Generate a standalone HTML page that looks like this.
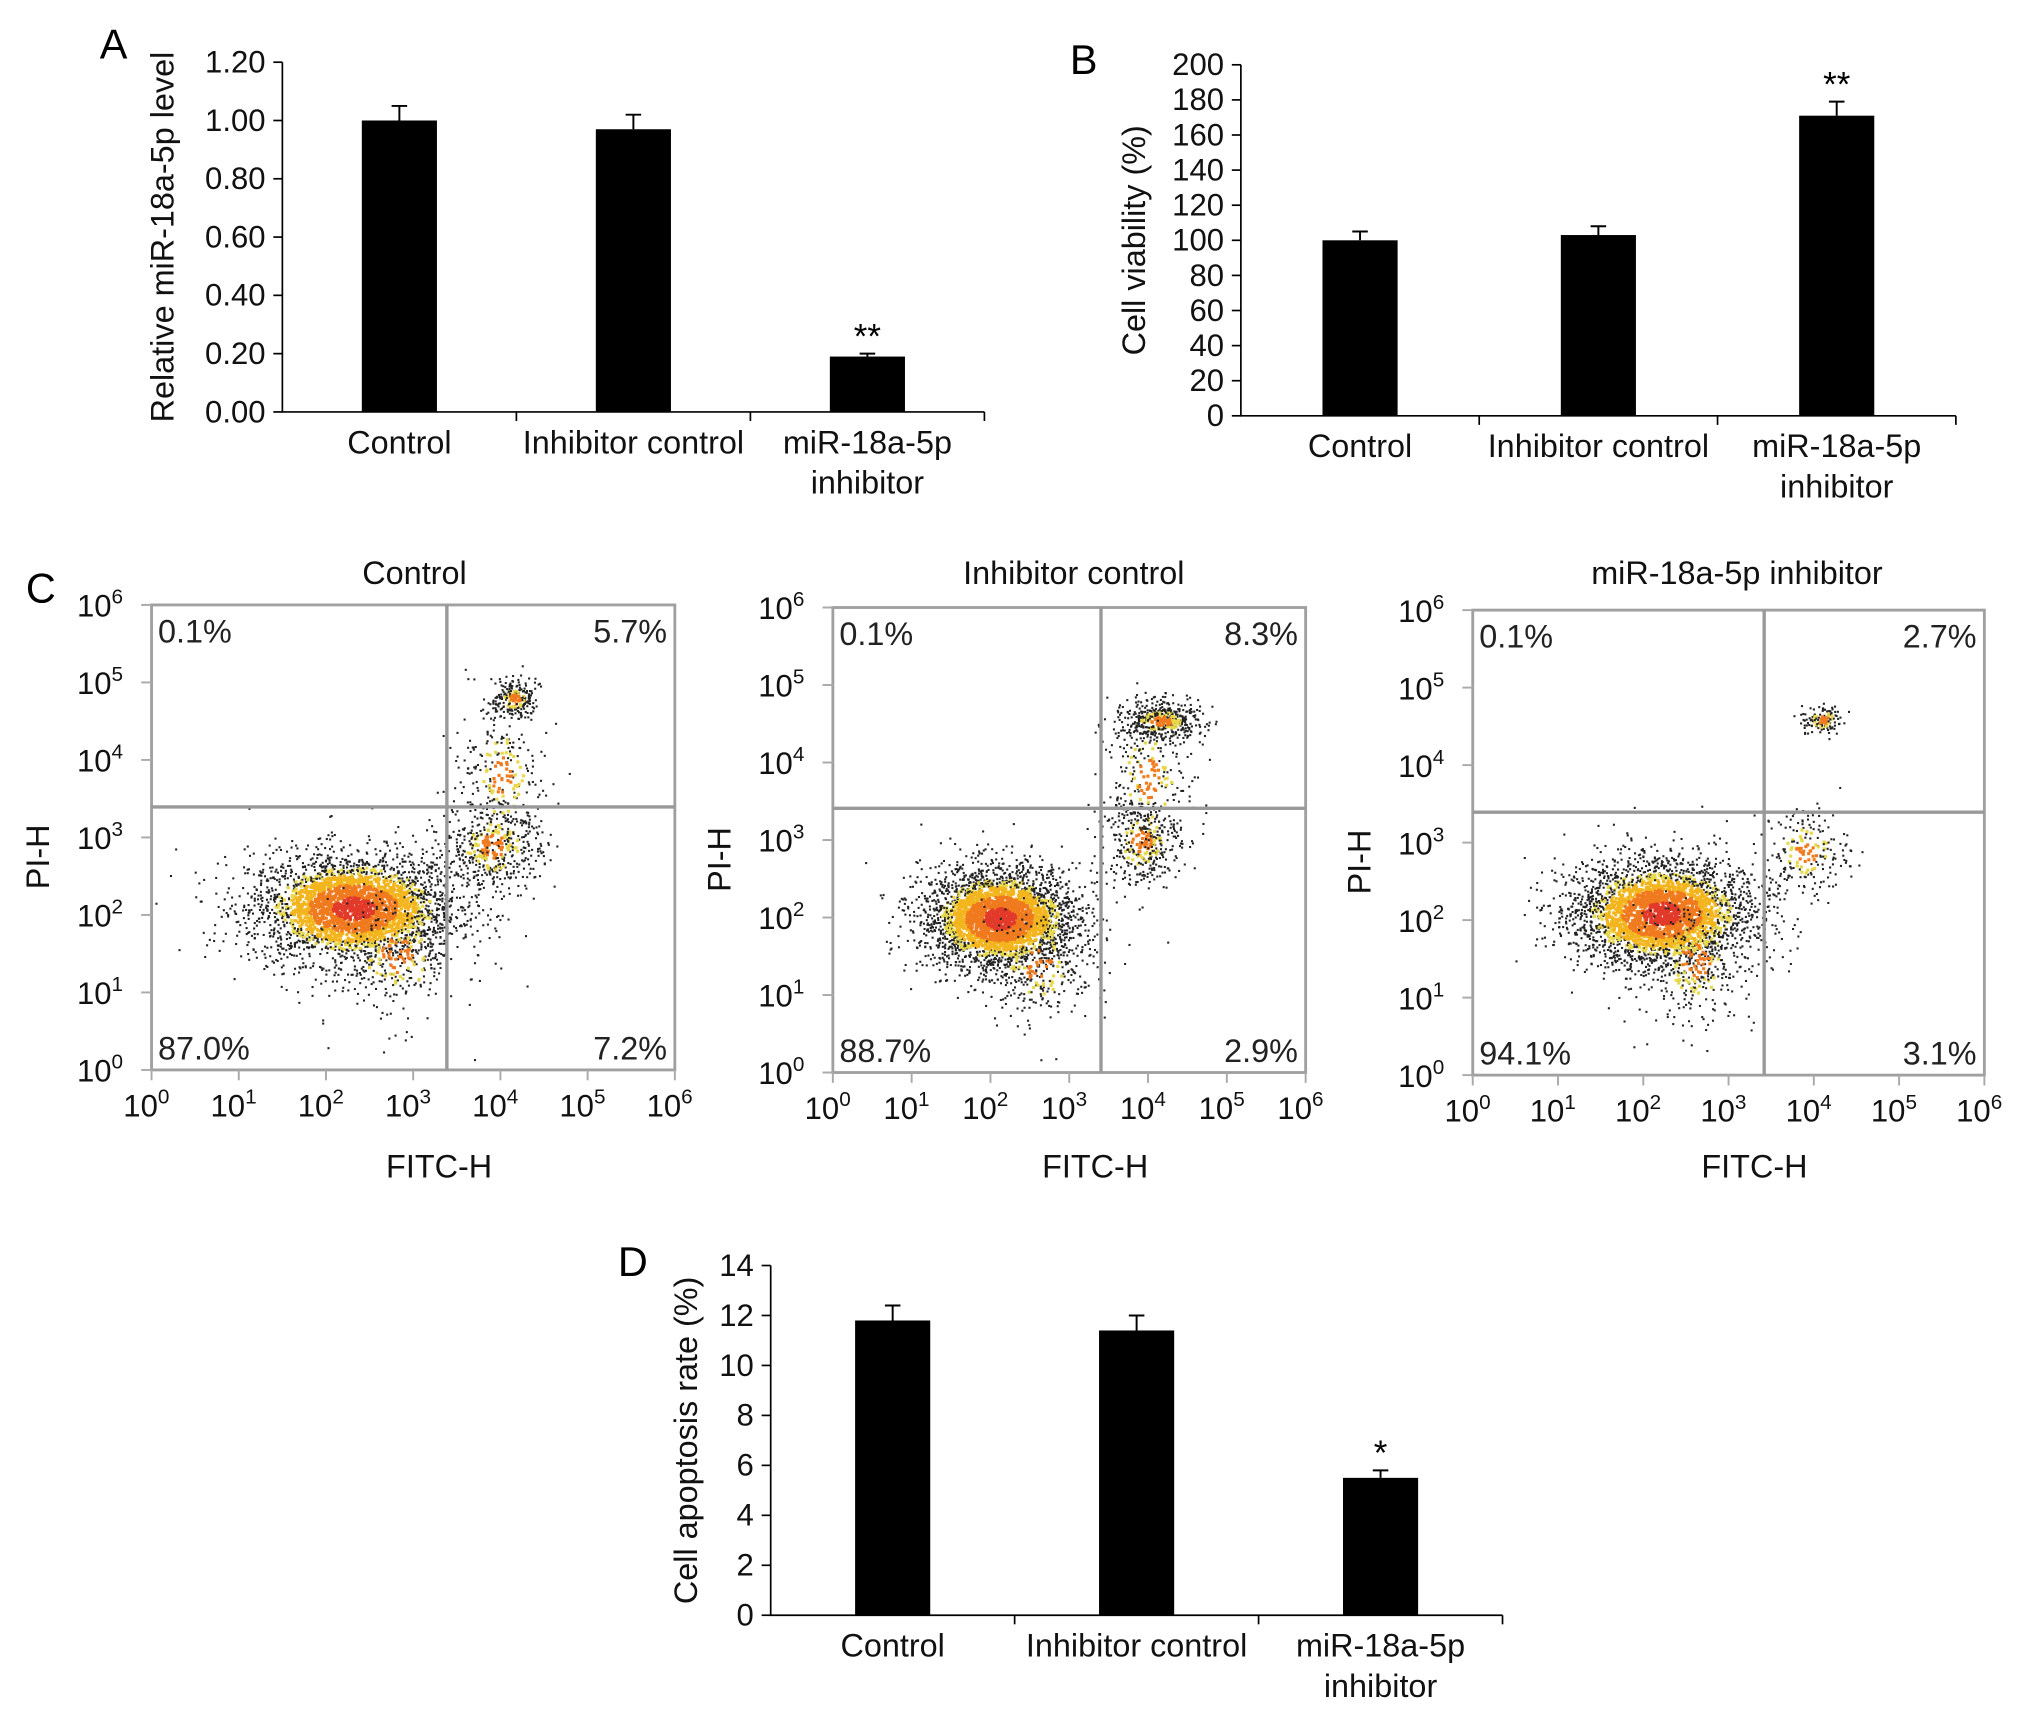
<!DOCTYPE html>
<html><head><meta charset="utf-8">
<style>html,body{margin:0;padding:0;background:#fff;}svg{display:block;font-family:"Liberation Sans",sans-serif;}</style>
</head><body>
<svg id="fig" width="2031" height="1729" viewBox="0 0 1568 1334.8" xmlns="http://www.w3.org/2000/svg"></svg>
<script>
// ---- Bar chart data ----
const barCategories = [["Control"],["Inhibitor control"],["miR-18a-5p","inhibitor"]];
const valuesA = [1.00, 0.97, 0.19];
const errorsA = [0.05, 0.05, 0.01];
const starsA = ["", "", "**"];
const ticksA = ["0.00","0.20","0.40","0.60","0.80","1.00","1.20"];
const valuesB = [100, 103, 171];
const errorsB = [5, 5, 8];
const starsB = ["", "", "**"];
const ticksB = ["0","20","40","60","80","100","120","140","160","180","200"];
const valuesD = [11.8, 11.4, 5.5];
const errorsD = [0.6, 0.6, 0.3];
const starsD = ["", "", "*"];
const ticksD = ["0","2","4","6","8","10","12","14"];
// ---- Flow cytometry data ----
const flowTitles = ["Control","Inhibitor control","miR-18a-5p inhibitor"];
const flowQuadrants = [["0.1%","5.7%","87.0%","7.2%"],["0.1%","8.3%","88.7%","2.9%"],["0.1%","2.7%","94.1%","3.1%"]];
const flowDecades = ["0","1","2","3","4","5","6"];
// clusters: [centerX(log), centerY(log), sdX, sdY, count]
const flowClusters = [
 [[2.3,2.1,0.6,0.36,3000],[2.8,1.5,0.35,0.45,300],[3.9,2.9,0.3,0.3,450],[4.15,4.8,0.12,0.12,220],[4.0,3.8,0.25,0.5,250]],
 [[2.1,2.0,0.5,0.34,3000],[2.6,1.4,0.35,0.4,250],[3.9,3.0,0.25,0.3,350],[4.15,4.55,0.25,0.12,450],[4.0,3.8,0.3,0.5,250]],
 [[2.2,2.1,0.55,0.36,3000],[2.6,1.5,0.35,0.45,300],[3.9,2.9,0.25,0.3,200],[4.1,4.6,0.12,0.1,120]]
];
const NS="http://www.w3.org/2000/svg";
const svg=document.getElementById('fig');
function el(tag,attrs,parent,text){const e=document.createElementNS(NS,tag);for(const k in attrs)e.setAttribute(k,attrs[k]);if(text!==undefined)e.textContent=text;(parent||svg).appendChild(e);return e;}

function barChart(cfg,vals,errs,stars,ticks,name){
  const g=el('g',{},svg);
  
  
  const maxV=parseFloat(ticks[ticks.length-1]);
  const yS=v=>cfg.y0-(v/maxV)*(cfg.y0-cfg.yTop);
  const groupW=(cfg.x1-cfg.x0)/vals.length;
  const xC=i=>cfg.x0+groupW*(i+0.5);
  const ax=el('path',{d:`M${cfg.x0} ${cfg.yTop}V${cfg.y0}H${cfg.x1}`,stroke:'#000','stroke-width':1.3,fill:'none'},g);
  
  ticks.forEach((t,i)=>{const v=parseFloat(t);const y=yS(v);
    el('line',{x1:cfg.x0-7,x2:cfg.x0,y1:y,y2:y,stroke:'#000','stroke-width':1.3},g);
    const tx=el('text',{x:cfg.x0-13,y:y+8,'text-anchor':'end','font-size':24,fill:'#111'},g,t);
    });
  for(let i=1;i<=vals.length;i++){const x=cfg.x0+groupW*i;el('line',{x1:x,x2:x,y1:cfg.y0,y2:cfg.y0+7,stroke:'#000','stroke-width':1.3},g);}
  vals.forEach((v,i)=>{const x=xC(i);
    const r=el('rect',{x:x-29,y:yS(v),width:58,height:cfg.y0-yS(v),fill:'#000'},g);
    
    const ye=yS(v+errs[i]);
    el('path',{d:`M${x} ${yS(v)}V${ye}M${x-6} ${ye}H${x+6}`,stroke:'#000','stroke-width':1.5,fill:'none'},g);
    if(stars[i]){const s=el('text',{x:x,y:ye-4,'text-anchor':'middle','font-size':27,fill:'#000'},g,stars[i]);
      }
    barCategories[i].forEach((ln,j)=>{const t=el('text',{x:x,y:cfg.y0+32+j*31,'text-anchor':'middle','font-size':25,fill:'#111'},g,ln);
      });
  });
  const yl=el('text',{x:0,y:0,transform:`translate(${cfg.ylx},${(cfg.y0+cfg.yTop)/2}) rotate(-90)`,'text-anchor':'middle','font-size':25,fill:'#111'},g,cfg.ylabel);
  
  const pl=el('text',{x:cfg.lx,y:cfg.ly,'font-size':32,fill:'#000'},g,cfg.letter);
  
}
barChart({x0:218,x1:760,y0:318,yTop:48,ylx:134,ylabel:'Relative miR-18a-5p level',letter:'A',lx:77,ly:45},valuesA,errorsA,starsA,ticksA,'panel-a-chart');
barChart({x0:958,x1:1510,y0:321,yTop:50,ylx:884,ylabel:'Cell viability (%)',letter:'B',lx:826,ly:57},valuesB,errorsB,starsB,ticksB,'panel-b-chart');
barChart({x0:595,x1:1160,y0:1247,yTop:977,ylx:538,ylabel:'Cell apoptosis rate (%)',letter:'D',lx:477,ly:985},valuesD,errorsD,starsD,ticksD,'panel-d-chart');

// seeded rng
let seed=12345;function rnd(){seed=(seed*1103515245+12345)%2147483648;return seed/2147483648;}
function gauss(){let u=rnd()||1e-9,v=rnd();return Math.sqrt(-2*Math.log(u))*Math.cos(2*Math.PI*v);}

const plots=[{x0:117,x1:521,y0:826,y1:467,qx:345,qy:623,cx:320},{x0:643,x1:1008,y0:828,y1:469,qx:850,qy:624,cx:829},{x0:1137,x1:1532,y0:830,y1:471,qx:1362,qy:627,cx:1341}];
const t=el('text',{x:20,y:465,'font-size':32,fill:'#000'},svg,'C');

plots.forEach((p,pi)=>{
  const g=el('g',{},svg);
  
  
  const sx=(p.x1-p.x0)/6, sy=(p.y0-p.y1)/6;
  const X=l=>p.x0+l*sx, Y=l=>p.y0-l*sy;
  const dots=el('g',{},g);
  
  const cols=['#e23a2a','#f07a1e','#f3b51e','#e9d84a','#222'];
  flowClusters[pi].forEach(c=>{
    const dense=c[4]>=1000;
    const pts=[];
    for(let k=0;k<c[4];k++){const a=gauss(),b=gauss();const lx=c[0]+a*c[2],ly=c[1]+b*c[3];
      if(lx<0.02||lx>5.98||ly<0.02||ly>5.98)continue;const d=Math.sqrt(a*a+b*b);pts.push([lx,ly,d]);}
    pts.sort((u,v)=>v[2]-u[2]);
    pts.forEach(q=>{const d=q[2];let ci;
      if(dense){ci=d<0.4?0:d<0.85?1:d<1.2?2:(d<1.5&&rnd()<0.4)?3:4;}
      else{ci=d<0.5?1:(d<1.0&&rnd()<0.45)?3:4;}
      el('rect',{x:X(q[0]).toFixed(1),y:Y(q[1]).toFixed(1),width:ci==4?1.6:2.4,height:ci==4?1.6:2.4,fill:cols[ci]},dots);});
  });
  el('rect',{x:p.x0,y:p.y1,width:p.x1-p.x0,height:p.y0-p.y1,fill:'none',stroke:'#a0a0a0','stroke-width':2.2},g);
  el('line',{x1:p.qx,x2:p.qx,y1:p.y1,y2:p.y0,stroke:'#999','stroke-width':2.6},g);
  el('line',{x1:p.x0,x2:p.x1,y1:p.qy,y2:p.qy,stroke:'#999','stroke-width':2.6},g);
  const q=flowQuadrants[pi];
  [[p.x0+5,p.y1+29,'start',q[0]],[p.x1-6,p.y1+29,'end',q[1]],[p.x0+5,p.y0-8,'start',q[2]],[p.x1-6,p.y0-8,'end',q[3]]].forEach(a=>{
    const tt=el('text',{x:a[0],y:a[1],'text-anchor':a[2],'font-size':25,fill:'#222'},g,a[3]);
    });
  flowDecades.forEach((d,i)=>{
    const xt=el('text',{x:X(i)-4,y:p.y0+36,'text-anchor':'middle','font-size':24,fill:'#111'},g);
    
    el('tspan',{},xt,'10');el('tspan',{dy:-10,'font-size':16},xt,d);
    const yt=el('text',{x:p.x0-22,y:Y(i)+9,'text-anchor':'end','font-size':24,fill:'#111'},g);
    
    el('tspan',{},yt,'10');el('tspan',{dy:-10,'font-size':16},yt,d);
    el('line',{x1:X(i),x2:X(i),y1:p.y0,y2:p.y0+8,stroke:'#aaa','stroke-width':1.5},g);
    el('line',{x1:p.x0-8,x2:p.x0,y1:Y(i),y2:Y(i),stroke:'#aaa','stroke-width':1.5},g);
  });
  const ti=el('text',{x:p.cx,y:451,'text-anchor':'middle','font-size':25,fill:'#111'},g,flowTitles[pi]);
  
  const xl=el('text',{x:(p.x0+p.x1)/2+20,y:909,'text-anchor':'middle','font-size':25,fill:'#111'},g,'FITC-H');
  
  const yl=el('text',{x:0,y:0,transform:`translate(${p.x0-79},${(p.y0+p.y1)/2+15}) rotate(-90)`,'text-anchor':'middle','font-size':25,fill:'#111'},g,'PI-H');
  
});
</script>
</body></html>
